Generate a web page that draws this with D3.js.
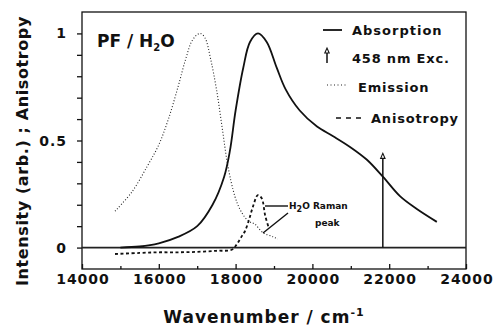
<!DOCTYPE html>
<html>
<head>
<meta charset="utf-8">
<script src="https://cdn.jsdelivr.net/npm/d3@7"></script>
<style>
  body { margin: 0; background: #fff; }
  text { font-family: "DejaVu Sans", sans-serif; font-weight: bold; fill: #111; }
</style>
</head>
<body>
<div id="plot"></div>
<script>
// wavenumber (cm-1) and value pairs
const absWn = [15000, 15500, 16000, 16500, 17000, 17400, 17700, 17850, 18000, 18200, 18375, 18583, 18810, 19070, 19300, 19670, 20120, 20540, 20980, 21420, 21840, 22280, 22720, 23240];
const absVal = [0.0, 0.005, 0.02, 0.05, 0.10, 0.20, 0.33, 0.45, 0.64, 0.84, 0.96, 1.0, 0.96, 0.84, 0.74, 0.64, 0.565, 0.52, 0.47, 0.41, 0.33, 0.24, 0.18, 0.12];

const emWn = [14860, 15300, 15700, 16000, 16250, 16500, 16700, 16880, 17070, 17200, 17350, 17510, 17650, 17800, 17980, 18110, 18250, 18375, 18500, 18710, 18980, 19100];
const emVal = [0.17, 0.26, 0.38, 0.48, 0.60, 0.75, 0.88, 0.97, 1.0, 0.98, 0.88, 0.73, 0.56, 0.38, 0.24, 0.18, 0.14, 0.12, 0.11, 0.07, 0.05, 0.04];

const anWn = [14860, 15500, 16000, 16500, 17000, 17500, 17900, 18030, 18150, 18240, 18350, 18450, 18580, 18680, 18770, 18850];
const anVal = [-0.03, -0.025, -0.022, -0.022, -0.02, -0.015, -0.01, 0.015, 0.05, 0.075, 0.13, 0.19, 0.245, 0.23, 0.15, 0.10];

const excWn = 21834; // 458 nm
const excTop = 0.44;

const xMajor = [14000, 16000, 18000, 20000, 22000, 24000];
const yMajor = [0, 0.5, 1];
const yLabels = ["0", "0.5", "1"];

const width = 496, height = 326;
const mLeft = 82, mRight = 466, mTop = 12, mBottom = 269;

const svg = d3.select("#plot").append("svg")
  .attr("width", width)
  .attr("height", height);

const x = d3.scaleLinear().domain([14000, 24000]).range([mLeft, mRight]);
const y = d3.scaleLinear().domain([-0.1, 1.1]).range([mBottom, mTop]);

// frame
svg.append("rect")
  .attr("x", mLeft).attr("y", mTop)
  .attr("width", mRight - mLeft).attr("height", mBottom - mTop)
  .attr("fill", "none").attr("stroke", "#111").attr("stroke-width", 1.3);

// zero line
svg.append("line")
  .attr("x1", mLeft).attr("x2", mRight)
  .attr("y1", y(0)).attr("y2", y(0))
  .attr("stroke", "#222").attr("stroke-width", 1.6);

// x ticks
svg.append("g")
  .attr("transform", `translate(0,${mBottom})`)
  .call(d3.axisBottom(x).tickValues(d3.range(14000, 24001, 1000)).tickSize(-4).tickFormat(""))
  .call(g => g.select(".domain").remove())
  .call(g => g.selectAll("line").attr("stroke", "#111").attr("stroke-width", 1.3).attr("y2", d => xMajor.includes(d) ? -5 : -3));

svg.selectAll(".xlab")
  .data(xMajor)
  .join("text")
  .attr("class", "xlab")
  .attr("x", d => x(d) + 1)
  .attr("y", 284)
  .attr("text-anchor", "middle")
  .style("font-size", "14px")
  .style("letter-spacing", "1px")
  .text(d => d);

// y ticks
svg.append("g")
  .attr("transform", `translate(${mLeft},0)`)
  .call(d3.axisLeft(y).tickValues(d3.range(0, 11).map(i => i / 10)).tickSize(5).tickFormat(""))
  .call(g => g.select(".domain").remove())
  .call(g => g.selectAll("line").attr("stroke", "#111").attr("stroke-width", 1.3));

svg.selectAll(".ylab")
  .data(yMajor)
  .join("text")
  .attr("class", "ylab")
  .attr("x", 67)
  .attr("y", d => y(d) + 5)
  .attr("text-anchor", "end")
  .style("font-size", "14px")
  .style("letter-spacing", "1px")
  .text((d, i) => yLabels[i]);

// axis titles
const xt = svg.append("text")
  .attr("x", 264).attr("y", 323)
  .attr("text-anchor", "middle")
  .style("font-size", "17px")
  .style("letter-spacing", "1px");
xt.append("tspan").text("Wavenumber / cm");
xt.append("tspan").attr("dy", -7).style("font-size", "11px").text("-1");

svg.append("text")
  .attr("transform", "translate(28,151) rotate(-90)")
  .attr("text-anchor", "middle")
  .style("font-size", "16px")
  .style("letter-spacing", "0.6px")
  .text("Intensity (arb.) ; Anisotropy");

// curves
function pts(wn, val) { return wn.map((w, i) => [w, val[i]]); }
const line = d3.line().x(d => x(d[0])).y(d => y(d[1])).curve(d3.curveCatmullRom.alpha(0.5));

svg.append("path")
  .attr("d", line(pts(emWn, emVal)))
  .attr("fill", "none").attr("stroke", "#222")
  .attr("stroke-width", 1.1).attr("stroke-dasharray", "1,2");

svg.append("path")
  .attr("d", line(pts(anWn, anVal)))
  .attr("fill", "none").attr("stroke", "#111")
  .attr("stroke-width", 1.8).attr("stroke-dasharray", "3,2.5");

svg.append("path")
  .attr("d", line(pts(absWn, absVal)))
  .attr("fill", "none").attr("stroke", "#111")
  .attr("stroke-width", 1.8);

// excitation arrow
function arrow(g, xp, y0, y1) {
  g.append("line")
    .attr("x1", xp).attr("x2", xp).attr("y1", y0).attr("y2", y1 + 4)
    .attr("stroke", "#111").attr("stroke-width", 1.5);
  g.append("path")
    .attr("d", `M${xp - 2.2},${y1 + 5} L${xp},${y1} L${xp + 2.2},${y1 + 5} Z`)
    .attr("fill", "#fff").attr("stroke", "#111").attr("stroke-width", 1.1);
}
arrow(svg, x(excWn), y(0), y(excTop));

// label
const lab = svg.append("text").attr("x", 97).attr("y", 47).style("font-size", "17px");
lab.append("tspan").text("PF / H");
lab.append("tspan").attr("dy", 4).style("font-size", "10px").text("2");
lab.append("tspan").attr("dy", -4).text("O");

// Raman annotation
svg.append("line").attr("x1", 265).attr("y1", 206).attr("x2", 288).attr("y2", 206)
  .attr("stroke", "#111").attr("stroke-width", 1.4);
svg.append("line").attr("x1", 263).attr("y1", 233).attr("x2", 288).attr("y2", 213)
  .attr("stroke", "#111").attr("stroke-width", 1.4);
const rm = svg.append("text").attr("x", 289).attr("y", 209).style("font-size", "9px");
rm.append("tspan").text("H");
rm.append("tspan").attr("dy", 3).style("font-size", "8px").text("2");
rm.append("tspan").attr("dy", -3).text("O Raman");
svg.append("text").attr("x", 315).attr("y", 226).style("font-size", "9px").text("peak");

// legend
const lg = svg.append("g");
lg.append("line").attr("x1", 323).attr("x2", 342).attr("y1", 30).attr("y2", 30)
  .attr("stroke", "#111").attr("stroke-width", 1.8);
lg.append("text").attr("x", 352).attr("y", 35).style("font-size", "13px").style("letter-spacing", "1px").text("Absorption");

arrow(lg, 327, 63, 48);
lg.append("text").attr("x", 352).attr("y", 63).style("font-size", "13px").style("letter-spacing", "0.8px").text("458 nm Exc.");

lg.append("line").attr("x1", 327).attr("x2", 347).attr("y1", 85).attr("y2", 85)
  .attr("stroke", "#222").attr("stroke-width", 1.1).attr("stroke-dasharray", "1,2.5");
lg.append("text").attr("x", 358).attr("y", 92).style("font-size", "13px").style("letter-spacing", "0.8px").text("Emission");

lg.append("line").attr("x1", 336).attr("x2", 365).attr("y1", 118).attr("y2", 118)
  .attr("stroke", "#111").attr("stroke-width", 1.6).attr("stroke-dasharray", "5,5");
lg.append("text").attr("x", 371).attr("y", 123).style("font-size", "13px").style("letter-spacing", "0.8px").text("Anisotropy");
</script>
</body>
</html>
